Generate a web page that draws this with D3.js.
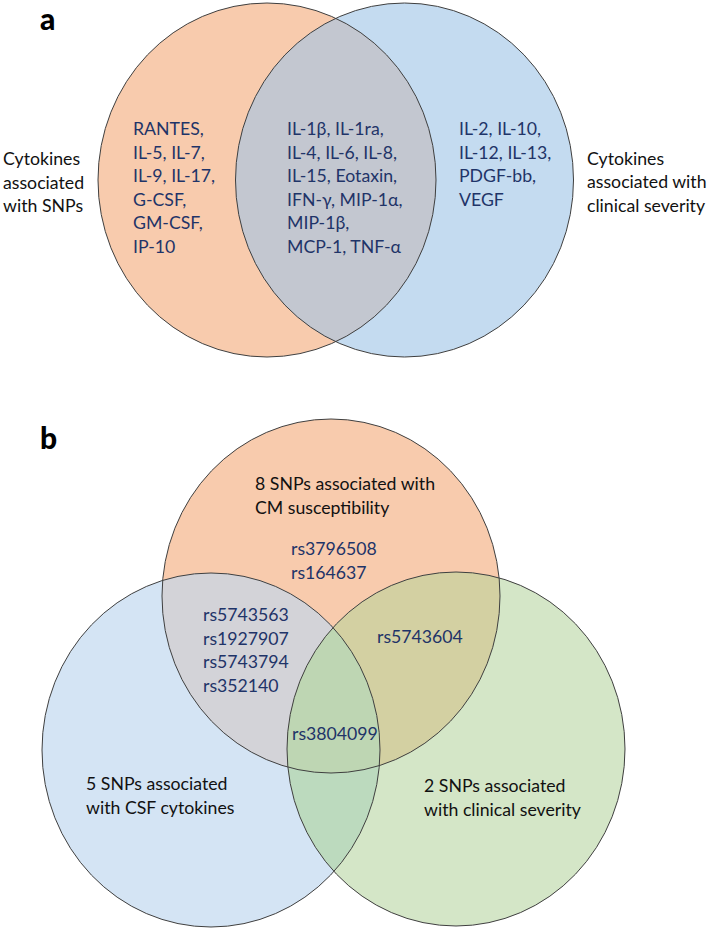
<!DOCTYPE html>
<html>
<head>
<meta charset="utf-8">
<script src="https://cdn.jsdelivr.net/npm/d3@7/dist/d3.min.js"></script>
<style>
  html, body { margin: 0; padding: 0; background: #fff; }
  svg { display: block; }
  text { font-family: Lato, "Open Sans", sans-serif; }
</style>
</head>
<body>
<svg id="chart" width="711" height="929"></svg>
<script>
// ---------- DATA ----------
const panelLabels = ["a", "b"];

// Panel a: two sets
const setsA = ["Cytokines associated with SNPs", "Cytokines associated with clinical severity"];
const setLabelLinesA = [
  ["Cytokines", "associated", "with SNPs"],
  ["Cytokines", "associated with", "clinical severity"]
];
const onlySnpCytokines = ["RANTES,", "IL-5, IL-7,", "IL-9, IL-17,", "G-CSF,", "GM-CSF,", "IP-10"];
const sharedCytokines = ["IL-1β, IL-1ra,", "IL-4, IL-6, IL-8,", "IL-15, Eotaxin,", "IFN-γ, MIP-1α,", "MIP-1β,", "MCP-1, TNF-α"];
const onlySeverityCytokines = ["IL-2, IL-10,", "IL-12, IL-13,", "PDGF-bb,", "VEGF"];

// Panel b: three sets
const setsB = ["CM susceptibility", "CSF cytokines", "clinical severity"];
const setLabelLinesB = [
  ["8 SNPs associated with", "CM susceptibility"],
  ["5 SNPs associated", "with CSF cytokines"],
  ["2 SNPs associated", "with clinical severity"]
];
const onlySusceptibilitySnps = ["rs3796508", "rs164637"];
const susceptibilityCytokineSnps = ["rs5743563", "rs1927907", "rs5743794", "rs352140"];
const susceptibilitySeveritySnps = ["rs5743604"];
const allThreeSnps = ["rs3804099"];

// ---------- LAYOUT / STYLE ----------
const svg = d3.select("#chart");
const RX = 169, RY = 177;
const stroke = "#3f3f3f";
const textBlue = "#1f3468";
const textBlack = "#111";
const fs = 17.7, lh = 23.5;

// unit coordinate scales (0..1 space)
const x = d3.scaleLinear().domain([0, 1]).range([0, 711]);
const y = d3.scaleLinear().domain([0, 1]).range([0, 929]);

const layoutA = [
  { cx: 267 / 711, cy: 180 / 929, fill: "#f8cbad" },
  { cx: 404.5 / 711, cy: 180 / 929, fill: "#c4dbf0" }
];
const interA = "#c3c7d0";

const layoutB = [
  { cx: 331 / 711, cy: 596 / 929, fill: "#f8cbad" },
  { cx: 211 / 711, cy: 750 / 929, fill: "#d4e4f4" },
  { cx: 456 / 711, cy: 749 / 929, fill: "#d4e6c7" }
];
const interB = {
  "0-1": "#d3d3d8",
  "0-2": "#d3d0a2",
  "1-2": "#bcdabe",
  "0-1-2": "#bed6b3"
};

const defs = svg.append("defs");

function addClip(id, d) {
  defs.append("clipPath").attr("id", id)
    .append("ellipse")
    .attr("cx", x(d.cx)).attr("cy", y(d.cy)).attr("rx", RX).attr("ry", RY);
}

function drawPanel(prefix, layout, inter) {
  const g = svg.append("g");
  layout.forEach((d, i) => addClip(prefix + i, d));
  g.selectAll("ellipse.base").data(layout).join("ellipse")
    .attr("class", "base")
    .attr("cx", d => x(d.cx)).attr("cy", d => y(d.cy))
    .attr("rx", RX).attr("ry", RY)
    .attr("fill", d => d.fill);
  Object.entries(inter).forEach(([key, col]) => {
    const idx = key.split("-").map(Number);
    let parent = g;
    for (let k = 0; k < idx.length - 1; k++) {
      parent = parent.append("g").attr("clip-path", `url(#${prefix}${idx[k]})`);
    }
    const last = layout[idx[idx.length - 1]];
    parent.append("ellipse")
      .attr("cx", x(last.cx)).attr("cy", y(last.cy))
      .attr("rx", RX).attr("ry", RY)
      .attr("fill", col);
  });
  g.selectAll("ellipse.outline").data(layout).join("ellipse")
    .attr("class", "outline")
    .attr("cx", d => x(d.cx)).attr("cy", d => y(d.cy))
    .attr("rx", RX).attr("ry", RY)
    .attr("fill", "none").attr("stroke", stroke).attr("stroke-width", 1);
  return g;
}

drawPanel("clipA", layoutA, { "0-1": interA });
drawPanel("clipB", layoutB, interB);

function textBlock(lines, px, py, color) {
  const t = svg.append("text")
    .attr("x", px).attr("y", py)
    .attr("fill", color)
    .attr("font-size", fs);
  t.selectAll("tspan").data(lines).join("tspan")
    .attr("x", px)
    .attr("y", (d, i) => py + i * lh)
    .text(d => d);
}

// panel letters
svg.selectAll("text.panel").data(panelLabels).join("text")
  .attr("class", "panel")
  .attr("x", 40)
  .attr("y", (d, i) => i === 0 ? 29.5 : 448.5)
  .attr("font-size", 30)
  .attr("font-weight", 900)
  .attr("fill", "#000")
  .text(d => d);

// panel a texts
textBlock(onlySnpCytokines, 133, 135, textBlue);
textBlock(sharedCytokines, 287, 135, textBlue);
textBlock(onlySeverityCytokines, 459, 135, textBlue);
textBlock(setLabelLinesA[0], 3, 165, textBlack);
textBlock(setLabelLinesA[1], 587, 164.5, textBlack);

// panel b texts
textBlock(setLabelLinesB[0], 255, 490, textBlack);
textBlock(onlySusceptibilitySnps, 291, 555, textBlue);
textBlock(susceptibilityCytokineSnps, 203, 621, textBlue);
textBlock(susceptibilitySeveritySnps, 377, 643, textBlue);
textBlock(allThreeSnps, 292, 740, textBlue);
textBlock(setLabelLinesB[1], 86, 790, textBlack);
textBlock(setLabelLinesB[2], 424, 792, textBlack);
</script>
</body>
</html>
